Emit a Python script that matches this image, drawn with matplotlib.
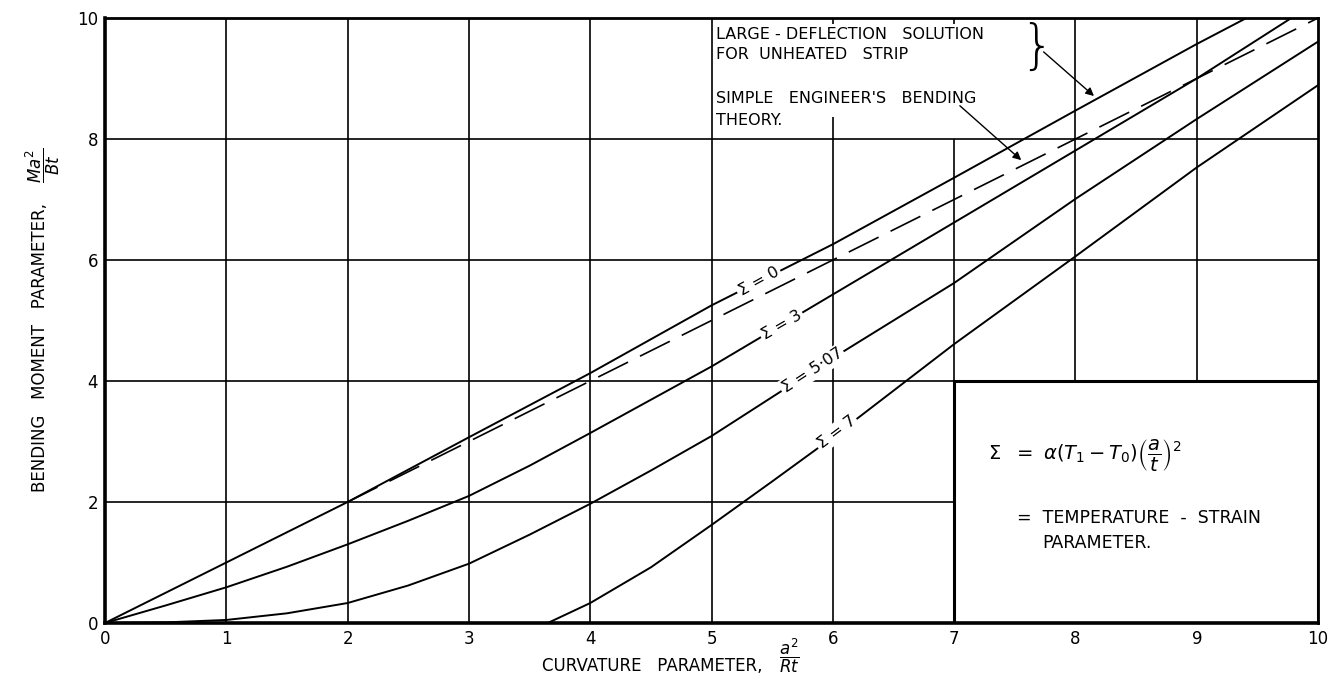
import matplotlib
matplotlib.use('Agg')
import matplotlib.pyplot as plt
from matplotlib.patches import Rectangle

# values: curvature parameter a^2/Rt (x) vs bending moment parameter Ma^2/Bt (y)
x_s0 = [0, 1, 2, 3, 4, 5, 6, 7, 8, 9, 9.41]
y_s0 = [0, 1.0, 2.0, 3.07, 4.13, 5.25, 6.26, 7.36, 8.47, 9.57, 10.0]

x_s3 = [0, 0.5, 1, 1.5, 2, 2.5, 3, 3.5, 4, 5, 6, 7, 8, 9, 9.78]
y_s3 = [0, 0.29, 0.59, 0.93, 1.30, 1.69, 2.10, 2.60, 3.14, 4.24, 5.43, 6.62, 7.81, 9.0, 10.0]

x_s507 = [0, 0.5, 1, 1.5, 2, 2.5, 3, 3.5, 4, 4.5, 5, 6, 7, 8, 9, 10]
y_s507 = [0, 0.01, 0.05, 0.16, 0.33, 0.62, 0.98, 1.46, 1.97, 2.52, 3.09, 4.38, 5.62, 7.01, 8.33, 9.61]

x_s7 = [3.65, 4, 4.5, 5, 5.5, 6, 7, 8, 9, 10]
y_s7 = [0, 0.33, 0.92, 1.62, 2.34, 3.07, 4.61, 6.06, 7.53, 8.89]

# simple engineer's bending theory (dashed)
x_simple = [2, 10]
y_simple = [2, 10]

curve_labels = ['Σ = 0', 'Σ = 3', 'Σ = 5·07', 'Σ = 7']
label_x = [5.39, 5.58, 5.83, 6.03]
label_y = [5.64, 4.92, 4.17, 3.15]
label_rot = [29, 30, 33, 37]

xticks = list(range(0, 11))
yticks = [0, 2, 4, 6, 8, 10]

fig = plt.figure(figsize=(13.33, 6.79), dpi=100)
ax = fig.add_axes([0.0788, 0.0825, 0.91, 0.891])
ax.set_xlim(0, 10)
ax.set_ylim(0, 10)

# hand drawn grid has gaps around the note at top and the key box
v_extent = {1: (0, 10), 2: (0, 10), 3: (0, 10), 4: (0, 10), 5: (0, 10),
            6: (0, 8.36), 7: (4, 8), 8: (4, 10), 9: (4, 10)}
for xv, (y0, y1) in v_extent.items():
    ax.vlines(xv, y0, y1, color='black', lw=1.2, zorder=1)
ax.vlines([6, 7], 9.9, 10, color='black', lw=1.2, zorder=1)
h_extent = {2: (0, 7), 4: (0, 7), 6: (0, 10), 8: (0, 10)}
for yv, (x0, x1) in h_extent.items():
    ax.hlines(yv, x0, x1, color='black', lw=1.2, zorder=1)

# key box
ax.add_patch(Rectangle((7, 0), 3, 4, facecolor='white', edgecolor='black', lw=2.2, zorder=2))

ax.plot(x_s0, y_s0, color='black', lw=1.4, zorder=3)
ax.plot(x_s3, y_s3, color='black', lw=1.4, zorder=3)
ax.plot(x_s507, y_s507, color='black', lw=1.4, zorder=3)
ax.plot(x_s7, y_s7, color='black', lw=1.4, zorder=3)
ax.plot(x_simple, y_simple, color='black', lw=1.2, dashes=(20, 8), zorder=3)

for lab, lx, ly, rot in zip(curve_labels, label_x, label_y, label_rot):
    ax.text(lx, ly, lab, rotation=rot, fontsize=11.5, ha='center', va='center',
            rotation_mode='anchor', zorder=4,
            bbox=dict(facecolor='white', edgecolor='none', pad=1.5))

# note at top
note_kw = dict(fontsize=11.5, va='center', zorder=4)
ax.text(5.04, 9.72, 'LARGE - DEFLECTION   SOLUTION', **note_kw)
ax.text(5.04, 9.39, 'FOR  UNHEATED   STRIP', **note_kw)
ax.text(5.04, 8.67, "SIMPLE   ENGINEER'S   BENDING", **note_kw)
ax.text(5.04, 8.31, 'THEORY.', **note_kw)
ax.text(7.68, 9.5, '}', fontsize=38, va='center', ha='center', fontweight='light', zorder=4)
ax.annotate('', xy=(8.17, 8.68), xytext=(7.72, 9.47),
            arrowprops=dict(arrowstyle='-|>', color='black', lw=1.0, mutation_scale=12), zorder=4)
ax.annotate('', xy=(7.57, 7.62), xytext=(7.03, 8.58),
            arrowprops=dict(arrowstyle='-|>', color='black', lw=1.0, mutation_scale=12), zorder=4)

# key text
ax.text(7.28, 2.78, r'$\Sigma\ \ =\ \alpha\left(T_1 - T_0\right)\left(\dfrac{a}{t}\right)^2$',
        fontsize=14, va='center', zorder=4)
ax.text(7.52, 1.73, '=  TEMPERATURE  -  STRAIN', fontsize=12.5, va='center', zorder=4)
ax.text(7.73, 1.32, 'PARAMETER.', fontsize=12.5, va='center', zorder=4)

ax.set_xticks(xticks)
ax.set_yticks(yticks)
ax.set_xticklabels([str(v) for v in xticks], fontsize=12)
ax.set_yticklabels([str(v) for v in yticks], fontsize=12)
ax.tick_params(length=0, pad=5)
for side in ['left', 'bottom']:
    ax.spines[side].set_linewidth(2.6)
for side in ['top', 'right']:
    ax.spines[side].set_linewidth(2.0)

# axis titles, with the fractions set apart so they sit beside the text like the drawing
fig.text(762 / 1333, 1 - 666 / 679, 'CURVATURE   PARAMETER,',
         fontsize=12, ha='right', va='center')
fig.text(789 / 1333, 1 - 656 / 679, r'$\dfrac{a^2}{Rt}$',
         fontsize=12, ha='center', va='center')
fig.text(40 / 1333, 1 - 348 / 679, 'BENDING   MOMENT   PARAMETER,',
         fontsize=12, ha='center', va='center', rotation=90)
fig.text(43 / 1333, 1 - 165 / 679, r'$\dfrac{Ma^2}{Bt}$',
         fontsize=12, ha='center', va='center', rotation=90)

fig.savefig('out.png', dpi=100, facecolor='white')
